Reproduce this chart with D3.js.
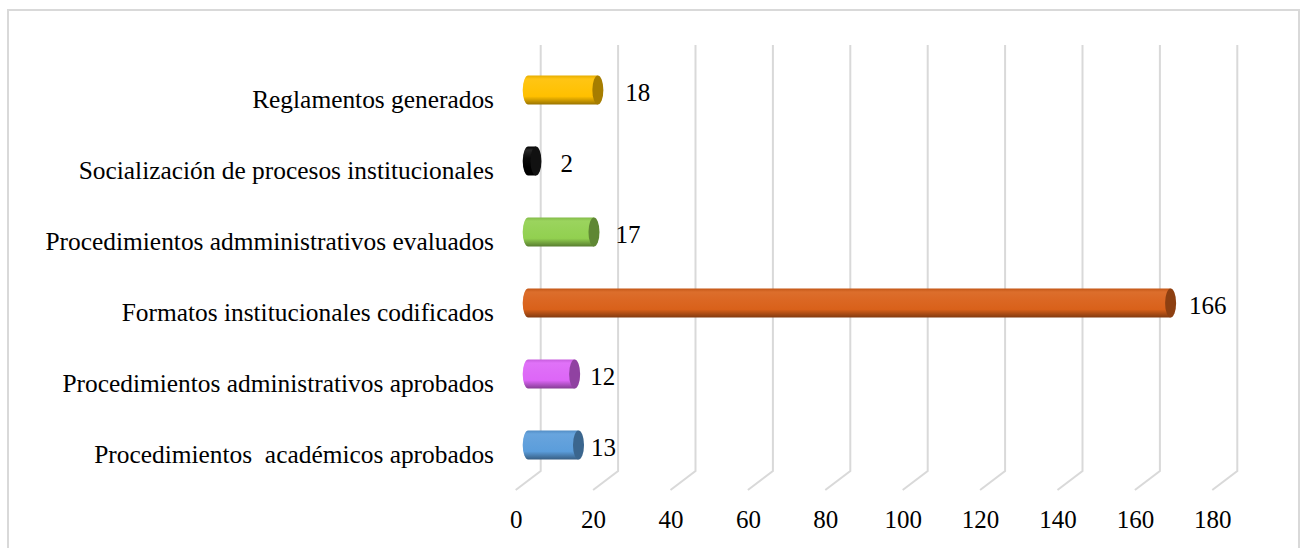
<!DOCTYPE html>
<html>
<head>
<meta charset="utf-8">
<script src="https://cdnjs.cloudflare.com/ajax/libs/d3/7.8.5/d3.min.js"></script>
<style>
  body { margin: 0; background: #fff; }
  text { font-family: "Liberation Serif", "Times New Roman", serif; fill: #000; white-space: pre; }
</style>
</head>
<body>
<div id="chart"></div>
<script>
// categories listed bottom -> top, as in the chart
let categories = [
  "Procedimientos  académicos aprobados",
  "Procedimientos administrativos aprobados",
  "Formatos institucionales codificados",
  "Procedimientos admministrativos evaluados",
  "Socialización de procesos institucionales",
  "Reglamentos generados"
];
let values = [13, 12, 166, 17, 2, 18];
let colors = ["#5B9DDB", "#DD66F7", "#D9611A", "#92D050", "#000000", "#FFC000"];
let xTicks = [0, 20, 40, 60, 80, 100, 120, 140, 160, 180];

let width = 1302, height = 548;
let depthX = -25, depthY = 19;   // back wall -> front floor edge
let fontSize = 25;

let chart = d3.select("#chart")
  .append("svg")
  .attr("width", width)
  .attr("height", height);

// outer frame
chart.append("rect")
  .attr("x", 8).attr("y", 10)
  .attr("width", 1291).attr("height", 560)
  .attr("fill", "none")
  .attr("stroke", "#d9d9d9")
  .attr("stroke-width", 2);

// scales on the back wall
let xscale = d3.scaleLinear().domain([0, 180]).range([540.7, 1237.3]);
let yscale = d3.scaleBand()
  .domain(categories.slice().reverse())
  .range([45, 471]);

let wallTop = 45, wallBottom = 471;

// gridlines: vertical on back wall + diagonal on floor
let grid = chart.append("g").attr("class", "grid");
grid.selectAll("path")
  .data(xTicks)
  .enter()
  .append("path")
  .attr("d", function(d) {
    let x = xscale(d);
    return "M" + x + "," + wallTop + "L" + x + "," + wallBottom +
      "L" + (x + depthX) + "," + (wallBottom + depthY);
  })
  .attr("fill", "none")
  .attr("stroke", "#d9d9d9")
  .attr("stroke-width", 2);

// x axis labels at front edge
let xFront = xscale.copy().range(xscale.range().map(function(r) { return r + depthX; }));
let xAxis = d3.axisBottom(xFront).tickValues(xTicks).tickSize(0).tickPadding(0);
let gx = chart.append("g")
  .attr("class", "xaxis")
  .attr("transform", "translate(0," + 510 + ")")
  .call(xAxis);
gx.select(".domain").remove();
gx.selectAll("text")
  .attr("dy", null)
  .attr("y", 18)
  .style("font-size", fontSize + "px")
  .style("font-family", "Liberation Serif");

// category labels
let yFront = yscale.copy().range([45 + depthY, 471 + depthY]);
let yAxis = d3.axisLeft(yFront).tickSize(0).tickPadding(0);
let gy = chart.append("g")
  .attr("class", "yaxis")
  .attr("transform", "translate(" + 494 + ",0)")
  .call(yAxis);
gy.select(".domain").remove();
gy.selectAll("text")
  .attr("dy", "0.35em")
  .style("font-size", "25.4px")
  .style("font-family", "Liberation Serif");

// gradients for cylinders
let defs = chart.append("defs");
function mix(c, target, t) { return d3.interpolateRgb(c, target)(t); }
colors.forEach(function(c, i) {
  let g = defs.append("linearGradient")
    .attr("id", "grad" + i)
    .attr("x1", 0).attr("y1", 0).attr("x2", 0).attr("y2", 1);
  let top = c === "#000000" ? "#262626" : mix(c, "#fff", 0.08);
  g.append("stop").attr("offset", "0%").attr("stop-color", mix(c, "#000", 0.1));
  g.append("stop").attr("offset", "12%").attr("stop-color", top);
  g.append("stop").attr("offset", "40%").attr("stop-color", mix(c, "#fff", 0.04));
  g.append("stop").attr("offset", "72%").attr("stop-color", c);
  g.append("stop").attr("offset", "100%").attr("stop-color", mix(c, "#000", 0.4));
});

// cylinders at mid depth
let midX = depthX / 2, midY = depthY / 2;
let barH = 29, rx = 5.5;

let data = categories.map(function(c, i) {
  return { cat: c, value: values[i], color: colors[i], i: i };
});

let bars = chart.selectAll("g.bar")
  .data(data)
  .enter()
  .append("g")
  .attr("class", "bar");

bars.append("path")
  .attr("d", function(d) {
    let x0 = xscale(0) + midX;
    let x1 = xscale(d.value) + midX;
    let cy = yscale(d.cat) + yscale.bandwidth() / 2 + midY;
    let ry = barH / 2;
    return "M" + x1 + "," + (cy - ry) +
      "L" + x0 + "," + (cy - ry) +
      "A" + rx + "," + ry + " 0 0 0 " + x0 + "," + (cy + ry) +
      "L" + x1 + "," + (cy + ry) + "Z";
  })
  .attr("fill", function(d) { return "url(#grad" + d.i + ")"; });

bars.append("ellipse")
  .attr("cx", function(d) { return xscale(d.value) + midX; })
  .attr("cy", function(d) { return yscale(d.cat) + yscale.bandwidth() / 2 + midY; })
  .attr("rx", rx)
  .attr("ry", barH / 2)
  .attr("fill", function(d) {
    return d.color === "#000000" ? "#111" : mix(d.color, "#000", 0.35);
  });

// value labels (gap grows toward the top, as the 3D view does)
bars.append("text")
  .attr("x", function(d) { return xscale(d.value) + midX + rx + 7 + d.i * 3; })
  .attr("y", function(d) { return yscale(d.cat) + yscale.bandwidth() / 2 + midY + 2; })
  .attr("dy", "0.35em")
  .style("font-size", fontSize + "px")
  .text(function(d) { return d.value; });
</script>
</body>
</html>
